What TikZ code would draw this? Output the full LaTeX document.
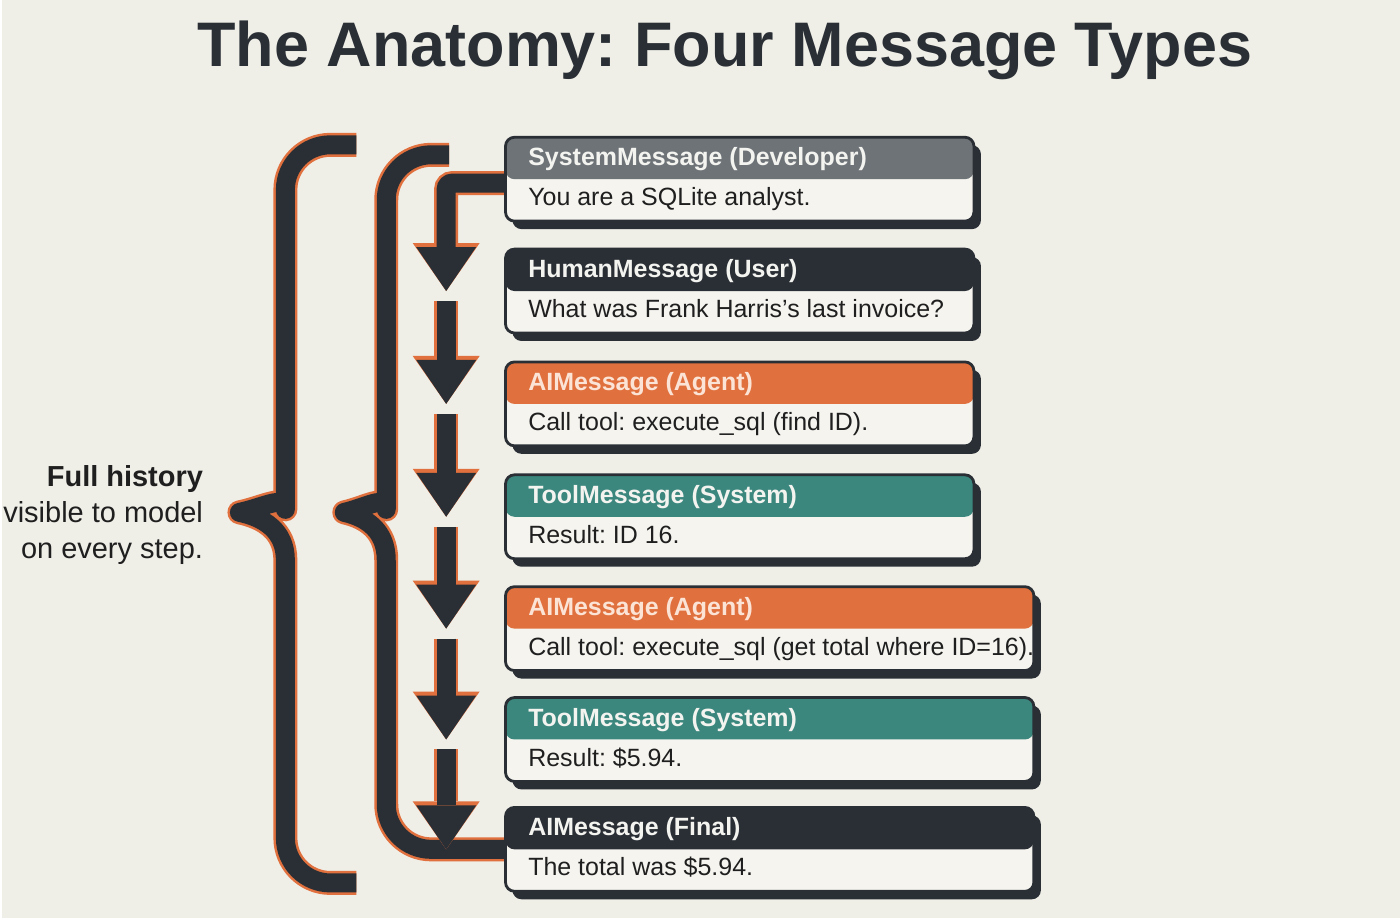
\documentclass[tikz,border=0pt]{standalone}
\usepackage{fontspec}
\setmainfont{Liberation Sans}
\usetikzlibrary{arrows.meta,shadows,backgrounds}
\definecolor{ink}{HTML}{2A2F35}
\definecolor{rust}{HTML}{E0703D}
\definecolor{paper}{HTML}{F5F4EF}
\definecolor{canvas}{HTML}{EFEEE7}
\definecolor{slate}{HTML}{6E7378}
\definecolor{tealhdr}{HTML}{3B877E}
\definecolor{peach}{HTML}{FBE3D6}
\definecolor{snow}{HTML}{F3F3F0}
\frenchspacing
\begin{document}
\begin{tikzpicture}[x=1pt, y=-1pt,
  brace/.style={line width=19pt, draw=ink, line join=round,
    preaction={draw=rust, line width=24pt, line join=round}},
  flow/.style={line width=19pt, draw=ink, -{Triangle[width=60pt,length=44pt,line width=0pt]},
    preaction={draw=rust, line width=24pt, -{Triangle[width=67pt,length=48pt,line width=0pt]}}},
  msgbox/.style={draw=ink, line width=2.8pt, rounded corners=9pt, fill=paper, minimum width=#1,
    minimum height=84pt, inner sep=0pt, anchor=north west,
    drop shadow={shadow xshift=7pt, shadow yshift=-8pt, fill=ink, opacity=1}},
  hdr/.style={font=\bfseries\fontsize{25}{30}\selectfont, anchor=base west, inner sep=0pt},
  body/.style={font=\fontsize{25}{30}\selectfont, text=black!88, anchor=base west, inner sep=0pt}]

\node[font=\bfseries\fontsize{63}{70}\selectfont, text=ink, anchor=base] (title) at (724,67) {The Anatomy: Four Message Types};

\foreach \n/\y/\w/\c/\tc/\h/\b in {
  1/136/469/slate/snow/{SystemMessage (Developer)}/{You are a SQLite analyst.},
  2/248/469/ink/snow/{HumanMessage (User)}/{What was Frank Harris's last invoice?},
  3/361/469/rust/peach/{AIMessage (Agent)}/{Call tool: execute\_sql (find ID).},
  4/474/469/tealhdr/snow/{ToolMessage (System)}/{Result: ID 16.},
  5/586/529/rust/peach/{AIMessage (Agent)}/{Call tool: execute\_sql (get total where ID=16).},
  6/697/529/tealhdr/snow/{ToolMessage (System)}/{Result: \$5.94.},
  7/807/529/ink/snow/{AIMessage (Final)}/{The total was \$5.94.}} {
  \node[msgbox=\w pt, path picture={\fill[\c] (path picture bounding box.north west) rectangle ([yshift=-42pt]path picture bounding box.north east);}] (m\n) at (503,\y) {};
  \node[hdr, text=\tc] (h\n) at ([xshift=24pt,yshift=-30pt]m\n.north west) {\h};
  \node[body] (t\n) at ([xshift=24pt,yshift=-70pt]m\n.north west) {\b};
}

\node[align=right, anchor=east, text=black!88, font=\fontsize{29}{36}\selectfont] (note) at (205,516) {\textbf{Full history}\\visible to model\\on every step.};

\coordinate (otop) at (355,145);
\coordinate (obot) at (355,884);
\coordinate (itop) at (448,155);
\coordinate (icol) at (385,0);
\coordinate (col) at (445,0);

\begin{scope}[on background layer]
\fill[canvas] (0,0) rectangle (1400,919);
\draw[brace] (otop) [rounded corners=45pt] -- (284,145) -- (284,465) [sharp corners]
  .. controls (284,495) and (262,508) .. (238,513) .. controls (262,518) and (284,531) .. (284,561)
  [rounded corners=45pt] -- (284,884) -- (obot);
\draw[brace] (itop) [rounded corners=45pt] -- (385,155) -- (385,465) [sharp corners]
  .. controls (385,495) and (365,508) .. (343,513) .. controls (365,518) and (385,531) .. (385,561)
  [rounded corners=45pt] -- (icol |- m7.west) -- (m7.west);
\draw[flow, rounded corners=6pt] ([yshift=-4pt]m1.west) -| (col |- m2.west);
\foreach \a/\b in {2/3,3/4,4/5,5/6,6/7}
  \draw[flow] ([yshift=-10pt]m\a.west -| col) -- (m\b.west -| col);
\end{scope}
\end{tikzpicture}
\end{document}
